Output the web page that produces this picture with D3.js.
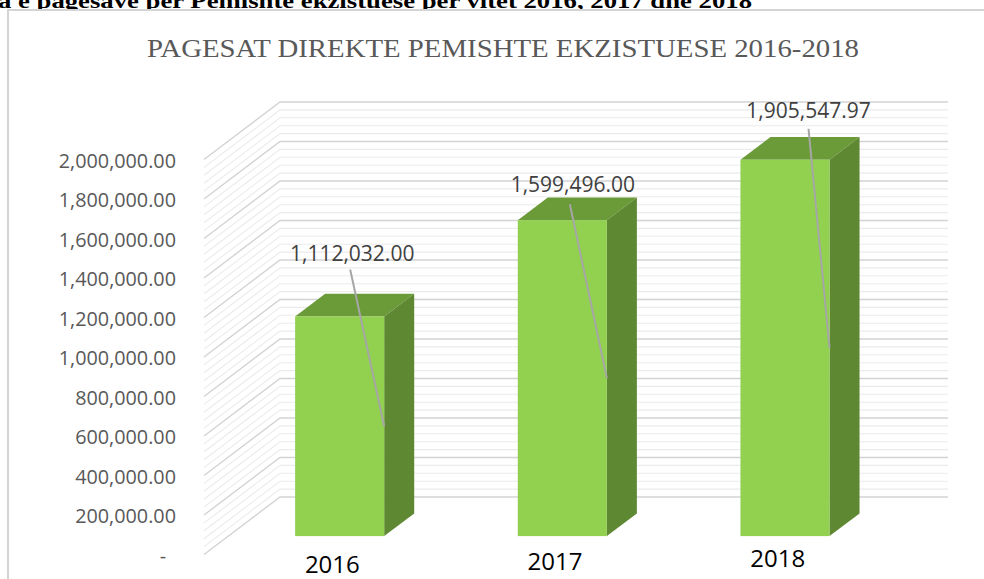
<!DOCTYPE html>
<html>
<head>
<meta charset="utf-8">
<script src="https://cdn.jsdelivr.net/npm/d3@7"></script>
<style>
  body { margin: 0; background: #fff; }
  svg { display: block; }
</style>
</head>
<body>
<div id="vis"></div>
<script>
// chart data
var years = ["2016", "2017", "2018"];
var payments = [1112032.00, 1599496.00, 1905547.97];
var yTicks = [0, 200000, 400000, 600000, 800000, 1000000, 1200000, 1400000, 1600000, 1800000, 2000000];

var width = 984;
var height = 579;

var svg = d3.select("#vis").append("svg")
  .attr("width", width)
  .attr("height", height);

// caption of the table, cut off at the top of the page
svg.append("text")
  .attr("x", -2)
  .attr("y", 8)
  .attr("textLength", 754)
  .attr("lengthAdjust", "spacingAndGlyphs")
  .style("font-family", "Liberation Serif, serif")
  .style("font-weight", "bold")
  .style("font-size", "22px")
  .text("a e pagesave për Pemishte ekzistuese për vitet 2016, 2017 dhe 2018");

// chart area border
svg.append("rect")
  .attr("x", 8).attr("y", 10)
  .attr("width", 1000).attr("height", 600)
  .attr("fill", "#fff")
  .attr("stroke", "#d4d4d4")
  .attr("stroke-width", 2);

svg.append("text")
  .attr("x", 503)
  .attr("y", 57)
  .attr("text-anchor", "middle")
  .attr("textLength", 712)
  .attr("lengthAdjust", "spacingAndGlyphs")
  .style("font-family", "Liberation Serif, serif")
  .style("font-size", "25px")
  .style("fill", "#595959")
  .text("PAGESAT DIREKTE PEMISHTE EKZISTUESE 2016-2018");

// 3d projection: depth offset of the back wall
var depthX = 76, depthY = -57.5;
function ox(f) { return depthX * f; }
function oy(f) { return depthY * f; }

// scales on the front plane
var x = d3.scaleBand().domain(years).range([204, 872]);
var y = d3.scaleLinear().domain([0, 2000000]).range([554.5, 159.5]);

// gridlines: minor every 40,000, major every 200,000
var grid = svg.append("g");
var minorTicks = d3.range(0, 2000001, 40000);
minorTicks.forEach(function(v) {
  var major = v % 200000 === 0;
  var yf = y(v);
  grid.append("path")
    .attr("d", "M" + x.range()[0] + "," + yf +
               "L" + (x.range()[0] + ox(1)) + "," + (yf + oy(1)) +
               "L" + (x.range()[1] + ox(1)) + "," + (yf + oy(1)))
    .attr("fill", "none")
    .attr("stroke", major ? "#d3d3d3" : "#ebebeb")
    .attr("stroke-width", major ? 1.4 : 1.1);
});

// y axis labels
var fmt = d3.format(",.2f");
svg.append("g").selectAll("text")
  .data(yTicks)
  .enter().append("text")
  .attr("x", function(d) { return d === 0 ? 166 : 176; })
  .attr("y", function(d) { return y(d) + 8; })
  .attr("text-anchor", "end")
  .style("font-family", "Open Sans, sans-serif")
  .style("font-size", "19.8px")
  .style("fill", "#595959")
  .text(function(d) { return d === 0 ? "-" : fmt(d); });

// bars
var barW = x.bandwidth() * 0.4;
var f0 = 0.32, f1 = 0.715;
var bars = years.map(function(yr, i) {
  var x0 = x(yr) + x.bandwidth() / 2 - barW / 2;
  return { year: yr, value: payments[i], x0: x0, x1: x0 + barW, yv: y(payments[i]), y0: y(0) };
});

var barG = svg.append("g").selectAll("g")
  .data(bars)
  .enter().append("g");

barG.append("path")
  .attr("fill", "#6b9a38")
  .attr("d", function(d) {
    return "M" + (d.x0 + ox(f0)) + "," + (d.yv + oy(f0)) +
           "L" + (d.x1 + ox(f0)) + "," + (d.yv + oy(f0)) +
           "L" + (d.x1 + ox(f1)) + "," + (d.yv + oy(f1)) +
           "L" + (d.x0 + ox(f1)) + "," + (d.yv + oy(f1)) + "Z";
  });

barG.append("path")
  .attr("fill", "#5f8833")
  .attr("d", function(d) {
    return "M" + (d.x1 + ox(f0)) + "," + (d.yv + oy(f0)) +
           "L" + (d.x1 + ox(f1)) + "," + (d.yv + oy(f1)) +
           "L" + (d.x1 + ox(f1)) + "," + (d.y0 + oy(f1)) +
           "L" + (d.x1 + ox(f0)) + "," + (d.y0 + oy(f0)) + "Z";
  });

barG.append("rect")
  .attr("fill", "#92d050")
  .attr("x", function(d) { return d.x0 + ox(f0); })
  .attr("y", function(d) { return d.yv + oy(f0); })
  .attr("width", barW)
  .attr("height", function(d) { return d.y0 - d.yv; });

// data labels (moved by hand in the original, so kept with leader lines)
var labelShift = [{ dx: -32, dy: -55 }, { dx: -34, dy: -28 }, { dx: -21, dy: -42 }];
var lineTop = [{ dx: -2, dy: 8 }, { dx: -3, dy: 12 }, { dx: 0, dy: 11 }];

barG.each(function(d, i) {
  var g = d3.select(this);
  var fx = d.x1 + ox(f0);
  var top = d.yv + oy(f0);
  var lx = fx + labelShift[i].dx;
  var ly = top + labelShift[i].dy;
  g.append("line")
    .attr("x1", lx + lineTop[i].dx)
    .attr("y1", ly + lineTop[i].dy)
    .attr("x2", fx)
    .attr("y2", (top + d.y0 + oy(f0)) / 2)
    .attr("stroke", "#a6a6a6")
    .attr("stroke-width", 2);
  g.append("text")
    .attr("x", lx)
    .attr("y", ly)
    .attr("text-anchor", "middle")
    .style("font-family", "Open Sans, sans-serif")
    .style("font-size", "21px")
    .style("fill", "#404040")
    .text(fmt(d.value));
});

// category labels
svg.append("g").selectAll("text")
  .data(years)
  .enter().append("text")
  .attr("x", function(d) { return x(d) + x.bandwidth() / 2 + 17; })
  .attr("y", function(d, i) { return 573 - 3 * i; })
  .attr("text-anchor", "middle")
  .style("font-family", "Open Sans, sans-serif")
  .style("font-size", "24px")
  .style("fill", "#000")
  .text(function(d) { return d; });
</script>
</body>
</html>
